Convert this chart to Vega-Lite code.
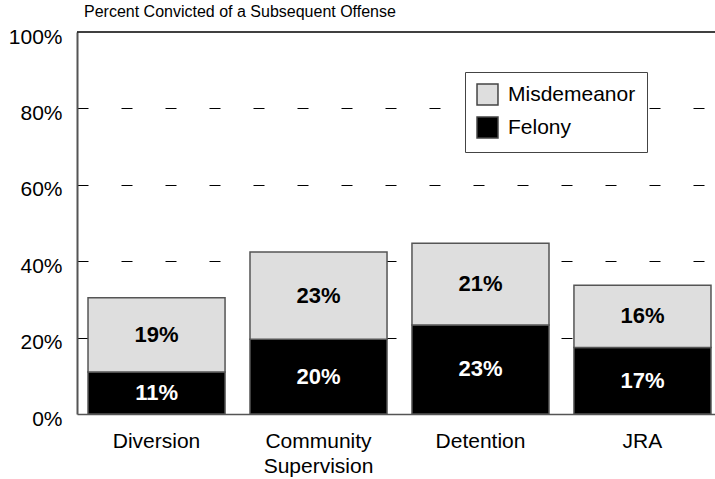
{
  "$schema": "https://vega.github.io/schema/vega-lite/v6.json",
  "width": 645,
  "height": 382,
  "autosize": {"type": "none"},
  "padding": {"left": 77, "top": 32, "right": 0, "bottom": 65},
  "background": "white",
  "config": {
    "view": {"stroke": null},
    "font": "Liberation Sans",
    "axis": {"labelFont": "Liberation Sans", "labelColor": "#000000"}
  },
  "title": {
    "text": "Percent Convicted of a Subsequent Offense",
    "anchor": "start",
    "frame": "group",
    "dx": 7,
    "offset": 6,
    "fontSize": 16,
    "fontWeight": "normal",
    "font": "Liberation Sans",
    "color": "#000000"
  },
  "data": {
    "values": [
      {"group": "Diversion", "type": "Felony", "value": 11.0, "label": "11%"},
      {"group": "Diversion", "type": "Misdemeanor", "value": 19.4, "label": "19%"},
      {"group": "Community Supervision", "type": "Felony", "value": 19.6, "label": "20%"},
      {"group": "Community Supervision", "type": "Misdemeanor", "value": 22.8, "label": "23%"},
      {"group": "Detention", "type": "Felony", "value": 23.3, "label": "23%"},
      {"group": "Detention", "type": "Misdemeanor", "value": 21.4, "label": "21%"},
      {"group": "JRA", "type": "Felony", "value": 17.4, "label": "17%"},
      {"group": "JRA", "type": "Misdemeanor", "value": 16.3, "label": "16%"}
    ]
  },
  "layer": [
    {
      "mark": {"type": "bar", "stroke": "#555555", "strokeWidth": 1.5},
      "encoding": {
        "x": {
          "field": "group",
          "type": "nominal",
          "sort": null,
          "scale": {"paddingInner": 0.154, "paddingOuter": 0.068},
          "axis": {
            "title": null,
            "labelAngle": 0,
            "labelFontSize": 21,
            "labelPadding": 16,
            "labelLineHeight": 25,
            "labelExpr": "split(datum.value, ' ')",
            "ticks": false,
            "domainColor": "#555555",
            "domainWidth": 1.5
          }
        },
        "y": {
          "field": "value",
          "type": "quantitative",
          "stack": "zero",
          "scale": {"domain": [0, 100], "nice": false},
          "axis": {
            "title": null,
            "values": [0, 20, 40, 60, 80, 100],
            "labelExpr": "datum.value + '%'",
            "labelFontSize": 21,
            "labelPadding": 15,
            "labelOffset": 5,
            "ticks": false,
            "domainColor": "#555555",
            "domainWidth": 2,
            "grid": true,
            "gridColor": "#000000",
            "gridWidth": 1,
            "gridDash": [11, 33],
            "gridOpacity": {"expr": "datum.value > 0 && datum.value < 100 ? 1 : 0"}
          }
        },
        "color": {
          "field": "type",
          "type": "nominal",
          "scale": {"domain": ["Misdemeanor", "Felony"], "range": ["#dedede", "#000000"]},
          "legend": {
            "title": null,
            "orient": "none",
            "legendX": 388,
            "legendY": 40,
            "symbolType": "square",
            "symbolSize": 440,
            "symbolStrokeColor": "#444444",
            "symbolStrokeWidth": 1.5,
            "labelFontSize": 21,
            "labelFont": "Liberation Sans",
            "labelColor": "#000000",
            "labelExpr": "datum.label + '\u00a0\u00a0'",
            "rowPadding": 6,
            "strokeColor": "#444444",
            "fillColor": "white",
            "padding": 11,
            "labelOffset": 9
          }
        },
        "order": {"field": "type", "sort": "ascending"}
      }
    },
    {
      "transform": [
        {"stack": "value", "groupby": ["group"], "sort": [{"field": "type", "order": "ascending"}], "as": ["v0", "v1"]},
        {"calculate": "(datum.v0 + datum.v1) / 2", "as": "mid"}
      ],
      "mark": {"type": "text", "fontWeight": "bold", "fontSize": 22, "font": "Liberation Sans", "baseline": "middle"},
      "encoding": {
        "x": {"field": "group", "type": "nominal", "sort": null},
        "y": {"field": "mid", "type": "quantitative"},
        "text": {"field": "label"},
        "color": {"condition": {"test": "datum.type == 'Felony'", "value": "#ffffff"}, "value": "#000000"}
      }
    },
    {
      "data": {"values": [{"top": 100}]},
      "mark": {"type": "rule", "color": "#000000", "strokeWidth": 1.5},
      "encoding": {"y": {"field": "top", "type": "quantitative"}}
    }
  ]
}
